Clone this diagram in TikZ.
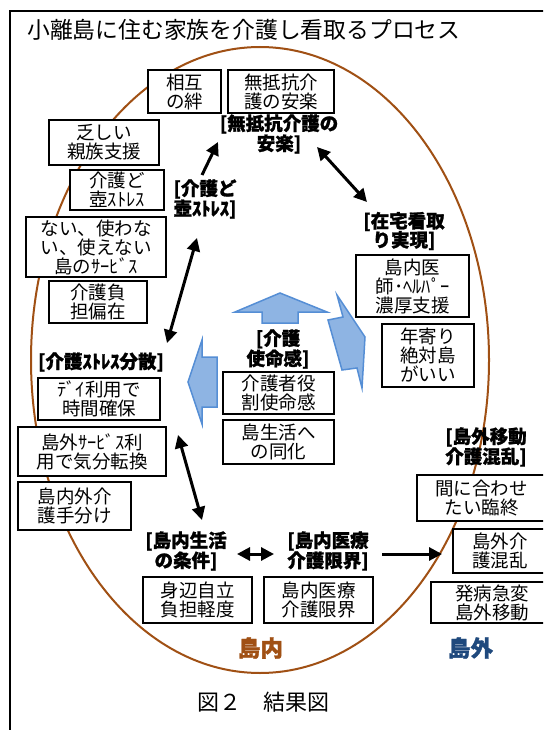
\documentclass[tikz,border=0pt]{standalone}
\usepackage{fontspec}
\setmainfont{Noto Sans CJK JP}[BoldFeatures={FakeBold=1.2}]
\usetikzlibrary{arrows.meta}
\definecolor{brownline}{RGB}{160,80,20}
\definecolor{islandblue}{RGB}{31,73,125}
\definecolor{arrfill}{RGB}{142,180,227}
\definecolor{arrdraw}{RGB}{85,142,213}
\newcommand\boxfont{\fontsize{18.5}{19}\selectfont}
\newcommand\lblfont{\fontsize{18.5}{19}\selectfont\bfseries}
\tikzset{
  box/.style={draw, fill=white, line width=2, inner sep=0, align=center, font=\boxfont},
  lbl/.style={inner sep=0, align=center, font=\lblfont},
  blk/.style={fill=arrfill, draw=arrdraw, line width=1.5, line join=miter},
  sarr/.style={line width=3, -{Triangle[length=13pt,width=13pt]}},
  darr/.style={line width=3, {Triangle[length=13pt,width=13pt]}-{Triangle[length=13pt,width=13pt]}},
}
\begin{document}
\begin{tikzpicture}[x=1pt,y=-1pt]
\useasboundingbox (0,0) rectangle (543,730);
\fill[white] (0,0) rectangle (543,730);
\clip (0,0) rectangle (543,730);
% frame
\draw[line width=1.5] (10,745) -- (10,11) -- (560,11);
% title
\node[anchor=west, inner sep=0, font=\fontsize{22.8}{24}\selectfont] (title) at (27,30) {小離島に住む家族を介護し看取るプロセス};
% island ellipse
\draw[brownline, line width=2] (260,360) ellipse [x radius=229, y radius=313];
% block arrows
\draw[blk] (280,293) -- (327,312) -- (298,312) -- (298,323) -- (262,323) -- (262,312) -- (235,312) -- cycle;
\draw[blk] (337,295) -- (365,337) -- (362,388) -- (357,368) -- (342,370) -- (328,320) -- (343,317) -- cycle;
\draw[blk] (188,382) -- (202,340) -- (202,357) -- (217,357) -- (217,407) -- (202,407) -- (202,424) -- cycle;
% boxes
\node[box, minimum width=73, minimum height=43] (b1) at (184.5,91.5) {相互\\の絆};
\node[box, minimum width=106, minimum height=43] (b2) at (281,91.5) {無抵抗介\\護の安楽};
\node[box, minimum width=110, minimum height=45] (b3) at (104,142.5) {乏しい\\親族支援};
\node[box, minimum width=94, minimum height=40] (b4) at (117,190) {介護ど\\壺ｽﾄﾚｽ};
\node[box, minimum width=140, minimum height=60] (b5) at (96,247) {ない、使わな\\い、使えない\\島のｻｰﾋﾞｽ};
\node[box, minimum width=98, minimum height=42] (b6) at (98,302) {介護負\\担偏在};
\node[box, minimum width=122, minimum height=42] (b7) at (99,399) {ﾃﾞｲ利用で\\時間確保};
\node[box, minimum width=148, minimum height=49] (b8) at (92,451.5) {島外ｻｰﾋﾞｽ利\\用で気分転換};
\node[box, minimum width=113, minimum height=48] (b9) at (74.5,506) {島内外介\\護手分け};
\node[box, minimum width=113, minimum height=62] (b10) at (412.5,286) {島内医\\師･ﾍﾙﾊﾟｰ\\濃厚支援};
\node[box, minimum width=92, minimum height=63] (b11) at (428,355.5) {年寄り\\絶対島\\がいい};
\node[box, minimum width=111, minimum height=42] (b12) at (278.5,393) {介護者役\\割使命感};
\node[box, minimum width=111, minimum height=44] (b13) at (278.5,442) {島生活へ\\の同化};
\node[box, minimum width=109, minimum height=46] (b14) at (197.5,600) {身辺自立\\負担軽度};
\node[box, minimum width=109, minimum height=46] (b15) at (318.5,600) {島内医療\\介護限界};
\node[box, minimum width=129, minimum height=46] (b16) at (481.5,498) {間に合わせ\\たい臨終};
\node[box, minimum width=94, minimum height=44] (b17) at (500,551) {島外介\\護混乱};
\node[box, minimum width=122, minimum height=41] (b18) at (492,602.5) {発病急変\\島外移動};
% bold labels
\node[lbl] (l1) at (279,134) {[無抵抗介護の\\安楽]};
\node[lbl] (l2) at (205,199) {[介護ど\\壺ｽﾄﾚｽ]};
\node[lbl] (l3) at (404,231) {[在宅看取\\り実現]};
\node[lbl] (l4) at (101,362) {[介護ｽﾄﾚｽ分散]};
\node[lbl] (l5) at (278,349) {[介護\\使命感]};
\node[lbl] (l6) at (186,551) {[島内生活\\の条件]};
\node[lbl] (l7) at (328,551) {[島内医療\\介護限界]};
\node[lbl] (l8) at (486,447) {[島外移動\\介護混乱]};
% region labels and caption
\node[inner sep=0, text=brownline, font=\fontsize{22.5}{24}\selectfont\bfseries] (inner) at (260.5,648) {島内};
\node[inner sep=0, text=islandblue, font=\fontsize{22.5}{24}\selectfont\bfseries] (outer) at (470.5,648) {島外};
\node[inner sep=0, font=\fontsize{22}{24}\selectfont] (cap) at (263.5,702) {図２　結果図};
% connector end points
\coordinate (a1s) at (202,175); \coordinate (a1e) at (218,142);
\coordinate (a2s) at (317,147); \coordinate (a2e) at (367,202);
\coordinate (a3s) at (197,238); \coordinate (a3e) at (167,343);
\coordinate (a4s) at (178,435); \coordinate (a4e) at (202,520);
\coordinate (a5s) at (237,554); \coordinate (a5e) at (274,554);
\coordinate (a6s) at (382,554); \coordinate (a6e) at (442,554);
\draw[sarr] (a1s) -- (a1e);
\draw[darr] (a2s) -- (a2e);
\draw[darr] (a3s) -- (a3e);
\draw[darr] (a4s) -- (a4e);
\draw[darr] (a5s) -- (a5e);
\draw[sarr] (a6s) -- (a6e);
\end{tikzpicture}
\end{document}
